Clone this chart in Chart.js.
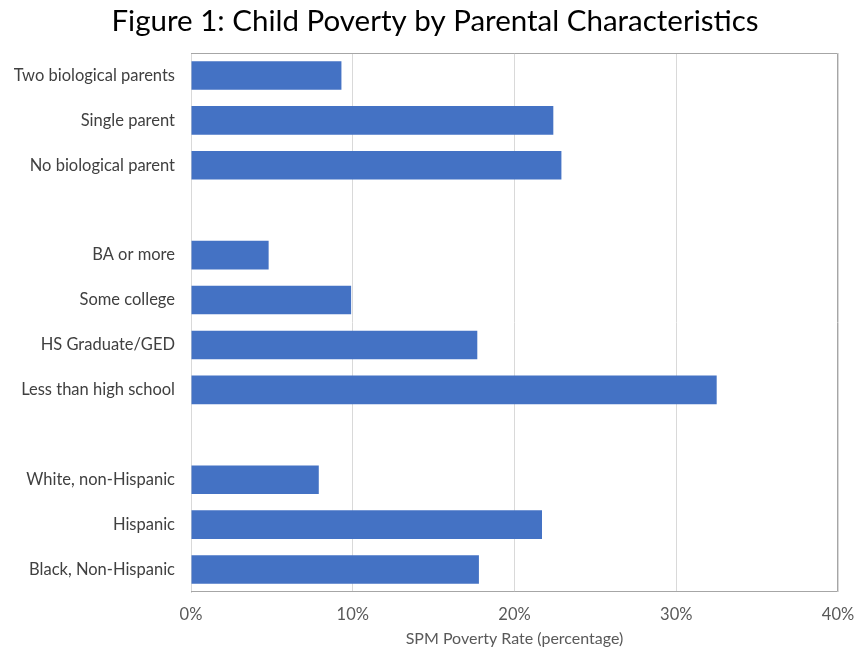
<!DOCTYPE html>
<html>
<head>
<meta charset="utf-8">
<script src="https://cdn.jsdelivr.net/npm/chart.js@4/dist/chart.umd.min.js"></script>
<style>
html,body{margin:0;padding:0;background:#fff;}
#wrap{width:855px;height:649px;position:relative;}
</style>
</head>
<body>
<div id="wrap"><canvas id="c" width="855" height="649"></canvas></div>
<script>
const categories = [
  "Two biological parents", "Single parent", "No biological parent", "",
  "BA or more", "Some college", "HS Graduate/GED", "Less than high school", "",
  "White, non-Hispanic", "Hispanic", "Black, Non-Hispanic"
];
const povertyRates = [9.3, 22.4, 22.9, null, 4.8, 9.9, 17.7, 32.5, null, 7.9, 21.7, 17.8];
const xTicks = [0, 10, 20, 30, 40];
const titleText = "Figure 1: Child Poverty by Parental Characteristics";
const xAxisTitle = "SPM Poverty Rate (percentage)";

const frame = {
  id: 'frame',
  afterDatasetsDraw(chart) {
    const {ctx, chartArea: a} = chart;
    ctx.save();
    ctx.lineWidth = 1;
    ctx.strokeStyle = '#a6a6a6';
    ctx.beginPath();
    ctx.moveTo(a.left, a.top + 0.5);
    ctx.lineTo(a.right - 0.5, a.top + 0.5);
    ctx.lineTo(a.right - 0.5, a.bottom - 0.5);
    ctx.lineTo(a.left, a.bottom - 0.5);
    ctx.stroke();
    ctx.restore();
  }
};

const titleDraw = {
  id: 'titleDraw',
  afterDraw(chart) {
    const ctx = chart.ctx;
    ctx.save();
    ctx.fillStyle = '#000';
    ctx.font = '29.5px Lato';
    ctx.textAlign = 'center';
    ctx.textBaseline = 'middle';
    ctx.fillText(titleText, 435, 21);
    ctx.restore();
  }
};

new Chart(document.getElementById('c'), {
  type: 'bar',
  data: {
    labels: categories,
    datasets: [{
      data: povertyRates,
      backgroundColor: '#4472C4',
      borderWidth: 0,
      barPercentage: 1,
      categoryPercentage: 0.635
    }]
  },
  options: {
    indexAxis: 'y',
    responsive: false,
    animation: false,
    layout: { padding: { left: 0, right: 17, top: 53, bottom: 1 } },
    plugins: {
      legend: { display: false },
      tooltip: { enabled: false },
      title: { display: false }
    },
    scales: {
      x: {
        min: 0, max: 40,
        afterBuildTicks(s) { s.ticks = xTicks.map(v => ({value: v})); },
        afterFit(s) { s.paddingRight = 0; s.paddingLeft = 0; },
        ticks: {
          callback: v => v + '%',
          color: '#595959',
          font: { family: 'Lato', size: 16.5 },
          padding: 13,
          maxRotation: 0
        },
        grid: { color: '#d9d9d9', drawTicks: false },
        border: { display: false },
        title: {
          display: true,
          text: xAxisTitle,
          color: '#595959',
          font: { family: 'Lato', size: 16 },
          padding: { top: -9, bottom: 0 }
        }
      },
      y: {
        afterFit(s) { s.width = 191; },
        ticks: {
          color: '#404040',
          font: { family: 'Lato', size: 16.5 },
          padding: 16,
          autoSkip: false
        },
        grid: { display: false, drawTicks: false },
        border: { display: true, color: '#d9d9d9' }
      }
    }
  },
  plugins: [frame, titleDraw]
});
</script>
</body>
</html>
